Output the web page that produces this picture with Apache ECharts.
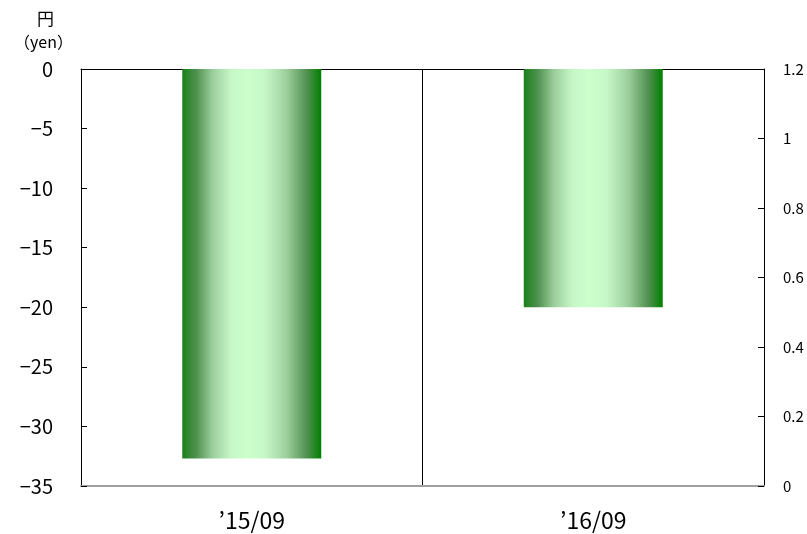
<!DOCTYPE html>
<html><head><meta charset="utf-8">
<script src="https://cdn.jsdelivr.net/npm/echarts@6/dist/echarts.min.js"></script>
<style>html,body{margin:0;padding:0;background:#fff}#c{width:807px;height:534px}</style>
</head><body><div id="c"></div>
<script>
const categories = ["’15/09", "’16/09"];
const values = [-32.7, -20.0];
const leftTicks = { min: -35, max: 0, interval: 5 };
const rightTicks = { min: 0, max: 1.2, interval: 0.2 };

const chart = echarts.init(document.getElementById('c'), null, { renderer: 'canvas' });
const font = '"Noto Sans CJK JP", "Noto Sans", sans-serif';
const grad = new echarts.graphic.LinearGradient(0, 0, 1, 0, [
  { offset: 0, color: '#1a801a' },
  { offset: 0.1, color: '#4f914f' },
  { offset: 0.22, color: '#9dcf9d' },
  { offset: 0.35, color: '#c6f6c6' },
  { offset: 0.47, color: '#ccffcc' },
  { offset: 0.6, color: '#c6f6c6' },
  { offset: 0.75, color: '#9dcf9d' },
  { offset: 0.9, color: '#4f8f4f' },
  { offset: 1, color: '#008000' }
]);
chart.setOption({
  animation: false,
  graphic: [
    { type: 'text', left: 37, top: 10, style: { text: '円', font: '17px ' + font, fill: '#000' } },
    { type: 'text', left: 14, top: 34, style: { text: '（yen）', font: '16px ' + font, fill: '#000' } }
  ],
  grid: { left: 81, right: 43, top: 69, bottom: 48, containLabel: false },
  xAxis: [
    {
      type: 'category', data: categories, position: 'bottom',
      axisLine: { onZero: false, lineStyle: { color: '#a0a0a0', width: 2 } },
      axisTick: { show: false },
      axisLabel: { color: '#000', fontSize: 23, fontFamily: font, margin: 23 },
      splitLine: { show: true, interval: 0, lineStyle: { color: '#000', width: 1 } }
    },
    {
      type: 'category', data: categories, position: 'top',
      axisLine: { onZero: false, lineStyle: { color: '#000', width: 1 } },
      axisTick: { show: false }, axisLabel: { show: false }
    }
  ],
  yAxis: [
    {
      type: 'value', position: 'left', min: leftTicks.min, max: leftTicks.max, interval: leftTicks.interval,
      axisLine: { show: true, lineStyle: { color: '#000', width: 1 } },
      axisTick: { show: true, inside: true, length: 6, lineStyle: { color: '#000' } },
      axisLabel: { color: '#000', fontSize: 20, fontFamily: font, margin: 28,
        formatter: v => String(v).replace('-', '−') },
      splitLine: { show: false }
    },
    {
      type: 'value', position: 'right', min: rightTicks.min, max: rightTicks.max, interval: rightTicks.interval,
      axisLine: { show: true, lineStyle: { color: '#000', width: 1 } },
      axisTick: { show: true, inside: true, length: 6, lineStyle: { color: '#000' } },
      axisLabel: { color: '#000', fontSize: 15, fontFamily: font, margin: 19,
        formatter: v => String(Math.round(v * 10) / 10) },
      splitLine: { show: false }
    }
  ],
  series: [{
    type: 'bar', xAxisIndex: 0, yAxisIndex: 0, data: values,
    barWidth: '40.7%', itemStyle: { color: grad }
  }]
});
</script></body></html>
